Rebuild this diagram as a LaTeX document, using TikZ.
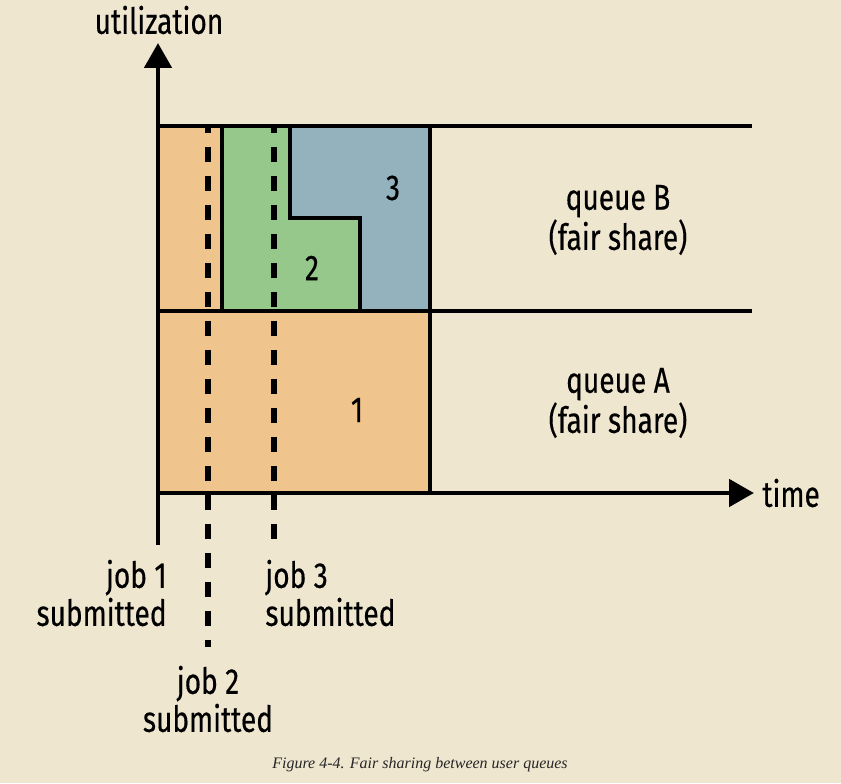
\documentclass[tikz,border=0pt]{standalone}
\usepackage{fontspec}
\setmainfont{Fira Sans}[FakeStretch=0.78, FakeBold=0.4]
\newfontfamily\capfont{Liberation Serif}
\usetikzlibrary{arrows.meta}
\definecolor{paper}{RGB}{239,230,208}
\definecolor{jobA}{RGB}{240,196,141}
\definecolor{jobB}{RGB}{150,200,140}
\definecolor{jobC}{RGB}{148,178,190}
\tikzset{
  lbl/.style={font=\fontsize{18}{19}\selectfont, align=center, inner sep=0pt},
  bar/.style={line width=2.4pt},
  submit/.style={line width=3pt, dash pattern=on 7.5pt off 7pt, dash phase=4pt},
  tip/.style={-{Triangle[width=13.5pt,length=12.5pt]}}
}
\begin{document}
\begin{tikzpicture}[x=0.5pt, y=0.5pt]
    \fill[paper] (0,0) rectangle (841,783);
    \useasboundingbox (0,0) rectangle (841,783);
    % job shares
    \fill[jobA] (158,472) rectangle (222,657);
    \fill[jobA] (158,290) rectangle (430,472);
    \fill[jobB] (222,472) -- (222,657) -- (290,657) -- (290,565) -- (360,565) -- (360,472) -- cycle;
    \fill[jobC] (290,657) -- (430,657) -- (430,472) -- (360,472) -- (360,565) -- (290,565) -- cycle;
    % submission times
    \draw[submit] (208,657) -- (208,136);
    \draw[submit] (274,657) -- (274,240);
    % queue borders
    \draw[bar] (158,657) -- (752,657);
    \draw[bar] (158,472) -- (752,472);
    \draw[bar] (222,472) -- (222,657);
    \draw[bar] (290,657) -- (290,565) -- (360,565) -- (360,472);
    \draw[bar] (430,290) -- (430,657);
    % axes
    \draw[bar, tip] (158,238) -- (158,740);
    \draw[bar, tip] (158,290) -- (754,290);
    \node[lbl] (util) at (159,763) {utilization};
    \node[lbl, anchor=west] (time) at (762,290) {time};
    \node[lbl] (n1) at (357,373) {1};
    \node[lbl] (n2) at (312,515) {2};
    \node[lbl] (n3) at (393,595) {3};
    \node[lbl] (qB) at (618,563) {queue B\\(fair share)};
    \node[lbl] (qA) at (618,380) {queue A\\(fair share)};
    \node[lbl, anchor=east, align=right] (j1) at (167,190) {job 1\\submitted};
    \node[lbl, anchor=west, align=left] (j3) at (265,190) {job 3\\submitted};
    \node[lbl] (j2) at (208,84) {job 2\\submitted};
    \node[font=\capfont\itshape\fontsize{8}{9}\selectfont, text=black!85] (cap) at (420,18) {Figure 4-4. Fair sharing between user queues};
  \end{tikzpicture}
\end{document}
